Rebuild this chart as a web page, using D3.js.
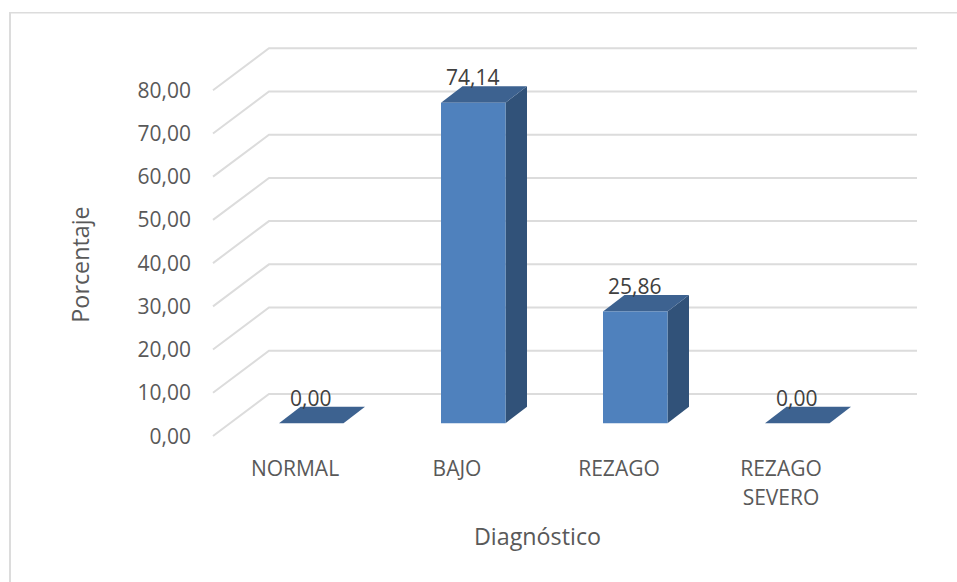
<!DOCTYPE html>
<html>
<head>
<meta charset="utf-8">
<script src="https://cdn.jsdelivr.net/npm/d3@7/dist/d3.min.js"></script>
<style>
  html, body { margin: 0; padding: 0; background: #fff; }
  svg { display: block; }
  text { font-family: "Open Sans", sans-serif; fill: #595959; }
</style>
</head>
<body>
<svg id="chart" width="957" height="582"></svg>
<script>
const categories = ["NORMAL", "BAJO", "REZAGO", "REZAGO SEVERO"];
const categoryLines = [["NORMAL"], ["BAJO"], ["REZAGO"], ["REZAGO", "SEVERO"]];
const values = [0, 74.14, 25.86, 0];
const valueLabels = ["0,00", "74,14", "25,86", "0,00"];
const yTicks = [0, 10, 20, 30, 40, 50, 60, 70, 80];

const svg = d3.select("#chart");
const fmt = v => v.toFixed(2).replace(".", ",");

// Oblique projection of the floor and of each column
const floorDepth = { x: 56, y: -42 };
const barDepth = { x: 21.5, y: -16.5 };
const barInset = { x: 17.25, y: -12.75 };

const x = d3.scaleBand().domain(categories).range([213, 861]);
const y = d3.scaleLinear().domain([0, 80]).range([436, 90.2]);
const barWidth = 64.5;

// Chart frame: only its top and left edges fall inside the page
svg.append("path")
  .attr("d", "M957,12.7H10")
  .attr("stroke", "#dcdcdc").attr("stroke-width", 1.5).attr("fill", "none");
svg.append("path")
  .attr("d", "M10,582V12")
  .attr("stroke", "#dcdcdc").attr("stroke-width", 2).attr("fill", "none");

// Gridlines: side wall segment and back wall segment
const grid = svg.append("g").attr("fill", "none").attr("stroke", "#dcdcdc").attr("stroke-width", 2);
grid.selectAll("path").data(yTicks).join("path")
  .attr("d", d => {
    const p = d3.path();
    p.moveTo(x.range()[0], y(d));
    p.lineTo(x.range()[0] + floorDepth.x, y(d) + floorDepth.y);
    p.lineTo(x.range()[1] + floorDepth.x, y(d) + floorDepth.y);
    return p.toString();
  });

// Value axis tick labels
svg.append("g").selectAll("text").data(yTicks).join("text")
  .attr("x", 191).attr("y", d => y(d))
  .attr("dy", "0.36em").attr("text-anchor", "end")
  .attr("font-size", 21)
  .text(fmt);

// Columns
const bars = svg.append("g").selectAll("g").data(categories).join("g");
const left = c => x(c) + (x.bandwidth() - barWidth) / 2 + barInset.x;
const valueOf = c => values[categories.indexOf(c)];
const base = y(0) + barInset.y;
const topOf = c => y(valueOf(c)) + barInset.y;

bars.filter(c => valueOf(c) > 0).append("path")
  .attr("fill", "#315279")
  .attr("d", c => {
    const r = left(c) + barWidth;
    return `M${r},${topOf(c)}L${r + barDepth.x},${topOf(c) + barDepth.y}L${r + barDepth.x},${base + barDepth.y}L${r},${base}Z`;
  });
bars.append("path")
  .attr("fill", "#3d6290")
  .attr("d", c => {
    const l = left(c), t = topOf(c);
    return `M${l},${t}L${l + barDepth.x},${t + barDepth.y}L${l + barWidth + barDepth.x},${t + barDepth.y}L${l + barWidth},${t}Z`;
  });
bars.filter(c => valueOf(c) > 0).append("rect")
  .attr("fill", "#4f81bd")
  .attr("x", left).attr("y", topOf)
  .attr("width", barWidth).attr("height", c => base - topOf(c));

// Value labels sit on top of each column
bars.append("text")
  .attr("x", c => left(c) + barWidth / 2 - 0.5)
  .attr("y", c => topOf(c) - 17.5)
  .attr("text-anchor", "middle")
  .attr("font-size", 21)
  .style("fill", "#404040")
  .text((c, i) => valueLabels[i]);

// Category labels
const catLabels = svg.append("g").selectAll("text").data(categories).join("text")
  .attr("text-anchor", "middle")
  .attr("font-size", 21);
catLabels.selectAll("tspan").data((c, i) => categoryLines[i].map(line => ({ c, line }))).join("tspan")
  .attr("x", d => x(d.c) + x.bandwidth() / 2 + 1)
  .attr("y", (d, i) => 476 + i * 29)
  .text(d => d.line);

// Axis titles
svg.append("text")
  .attr("x", 537.5).attr("y", 545)
  .attr("text-anchor", "middle").attr("font-size", 23.3)
  .text("Diagnóstico");
svg.append("text")
  .attr("transform", "translate(88.5,264.5) rotate(-90)")
  .attr("text-anchor", "middle").attr("font-size", 23.3)
  .text("Porcentaje");
</script>
</body>
</html>
